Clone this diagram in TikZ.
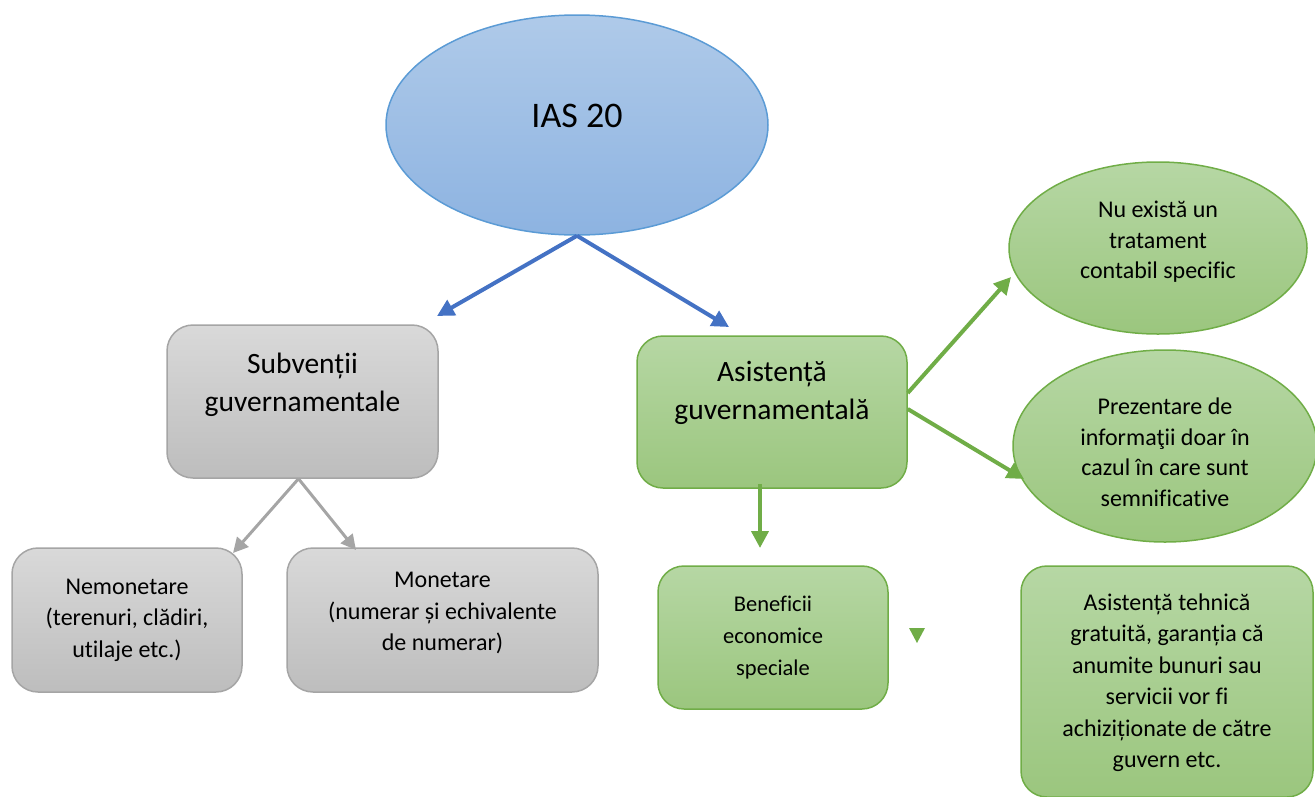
\documentclass[tikz,border=0pt]{standalone}
\usepackage{fontspec}
\setmainfont{Carlito}[Ligatures=NoCommon]
\usetikzlibrary{shapes.geometric,arrows.meta}

\definecolor{bluefillT}{HTML}{AFCAE9}
\definecolor{bluefillB}{HTML}{8DB3E1}
\definecolor{blueedge}{HTML}{5B9BD5}
\definecolor{bluearrow}{HTML}{4472C4}
\definecolor{grayfillT}{HTML}{D9D9D9}
\definecolor{grayfillB}{HTML}{BDBDBD}
\definecolor{grayedge}{HTML}{A5A5A5}
\definecolor{greenfillT}{HTML}{B6D7A4}
\definecolor{greenfillB}{HTML}{9BC67E}
\definecolor{greenedge}{HTML}{70AD47}

\tikzset{
  bluebubble/.style={ellipse, draw=blueedge, line width=1.5pt, top color=bluefillT, bottom color=bluefillB, inner sep=0pt},
  graybox/.style={rectangle, rounded corners=26pt, draw=grayedge, line width=1.5pt, top color=grayfillT, bottom color=grayfillB, inner sep=0pt},
  greenbox/.style={rectangle, rounded corners=26pt, draw=greenedge, line width=1.5pt, top color=greenfillT, bottom color=greenfillB, inner sep=0pt},
  greenbubble/.style={ellipse, draw=greenedge, line width=1.5pt, top color=greenfillT, bottom color=greenfillB, inner sep=0pt},
  txt/.style={align=center, inner sep=0pt, text=black},
  bigtxt/.style={txt, font=\fontsize{29.5}{38}\selectfont},
  smalltxt/.style={txt, font=\fontsize{24}{31.5}\selectfont},
  bluelink/.style={draw=bluearrow, line width=4pt, -{Triangle[length=17pt,width=17pt]}},
  graylink/.style={draw=grayedge, line width=3pt, -{Triangle[length=15pt,width=15pt]}},
  greenlink/.style={draw=greenedge, line width=4pt, -{Triangle[length=17pt,width=17pt]}},
}

\begin{document}
\begin{tikzpicture}[x=1pt, y=-1pt]
\useasboundingbox (0,0) rectangle (1315,796);

% shapes
\node[bluebubble, minimum width=382pt, minimum height=220pt] (ias) at (577,125) {};
\node[graybox, minimum width=271pt, minimum height=153pt] (sub) at (302.5,401.5) {};
\node[greenbox, minimum width=270pt, minimum height=152pt] (asist) at (772,412) {};
\node[graybox, minimum width=230pt, minimum height=144pt] (nem) at (127,620) {};
\node[graybox, minimum width=311pt, minimum height=144pt] (mon) at (442.5,620) {};
\node[greenbox, minimum width=230pt, minimum height=143pt] (ben) at (773,637.5) {};
\node[greenbubble, minimum width=298pt, minimum height=172pt] (nu) at (1158,248) {};
\node[greenbubble, minimum width=304pt, minimum height=192pt] (prez) at (1165,446) {};
\node[greenbox, minimum width=292pt, minimum height=231pt] (teh) at (1167,681.5) {};

% texts
\node[txt, font=\fontsize{36}{43}\selectfont] (iasT) at ([yshift=9pt]ias.center) {IAS 20};
\node[bigtxt] (subT) at ([yshift=17pt]sub.center) {Subvenții\\guvernamentale};
\node[bigtxt] (asistT) at ([yshift=19pt]asist.center) {Asistență\\guvernamentală};
\node[smalltxt] (nemT) at (nem.center) {Nemonetare\\(terenuri, clădiri,\\utilaje etc.)};
\node[smalltxt] (monT) at ([yshift=7pt]mon.center) {Monetare\\(numerar și echivalente\\de numerar)};
\node[txt, font=\fontsize{22.5}{32}\selectfont] (benT) at (ben.center) {Beneficii\\economice\\speciale};
\node[smalltxt, font=\fontsize{24}{30.5}\selectfont] (nuT) at ([yshift=6pt]nu.center) {Nu există un\\tratament\\contabil specific};
\node[smalltxt, font=\fontsize{24}{30.5}\selectfont] (prezT) at ([yshift=-6pt]prez.center) {Prezentare de\\informaţii doar în\\cazul în care sunt\\semnificative};
\node[smalltxt] (tehT) at ([yshift=-1pt]teh.center) {Asistență tehnică\\gratuită, garanția că\\anumite bunuri sau\\servicii vor fi\\achiziționate de către\\guvern etc.};

% free arrow ends
\coordinate (subTip) at (437,316);
\coordinate (asistTip) at (729,327);
\coordinate (nemTip) at (233,553);
\coordinate (monTip) at (356,550);
\coordinate (nuTip) at (1011,277);
\coordinate (prezTip) at (1024,479);
\coordinate (benTip) at (760,548);

% connectors
\draw[bluelink] (ias.south) -- (subTip);
\draw[bluelink] (ias.south) -- (asistTip);
\draw[graylink] ([xshift=-4pt]sub.south) -- (nemTip);
\draw[graylink] ([xshift=-4pt]sub.south) -- (monTip);
\draw[greenlink] ([yshift=19pt]asist.east) -- (nuTip);
\draw[greenlink] ([yshift=3pt]asist.east) -- (prezTip);
\draw[greenlink] ([xshift=-12pt,yshift=5pt]asist.south) -- (benTip);

% lone arrowhead beside the benefits box
\fill[greenedge] (909,628) -- (925,628) -- (917,643) -- cycle;
\end{tikzpicture}
\end{document}
